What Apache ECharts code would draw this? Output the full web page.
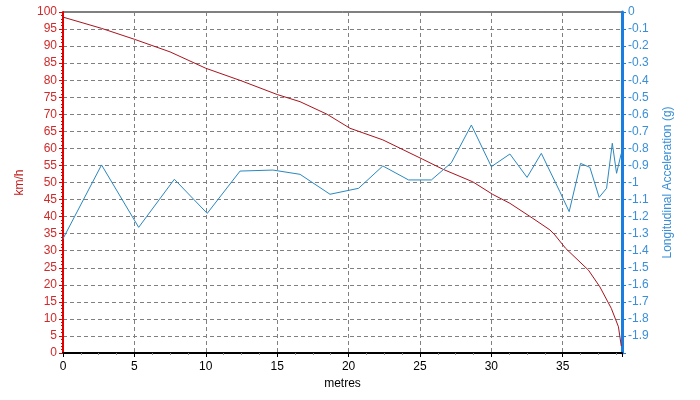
<!DOCTYPE html>
<html>
<head>
<meta charset="utf-8">
<script src="https://cdn.jsdelivr.net/npm/echarts@6/dist/echarts.min.js"></script>
<style>
html, body { margin: 0; padding: 0; background: #fff; }
#chart { width: 700px; height: 400px; }
</style>
</head>
<body>
<div id="chart"></div>
<script>
// speed (km/h) vs distance (m)
const speedPoints = [
  [0, 98.5], [2.7, 95.2], [5, 92], [7.5, 88.3], [10, 83.5], [12.5, 79.8],
  [15, 75.8], [16.6, 73.7], [18.5, 70], [20.1, 65.9], [22.4, 62.5],
  [25.2, 56.8], [26.6, 53.9], [28.7, 50.2], [30.1, 46.5], [31.3, 43.9],
  [32.9, 39.5], [34.1, 36.1], [34.45, 34.6], [35.2, 30.7], [36.8, 24.3],
  [37.6, 19.4], [38.4, 13.1], [38.9, 7.7], [39.1, 2]
];
// longitudinal acceleration (g) vs distance (m)
const accelPoints = [
  [0, -1.33], [2.7, -0.897], [5.3, -1.263], [7.8, -0.981], [10.1, -1.181],
  [12.4, -0.933], [14.7, -0.927], [16.6, -0.952], [18.7, -1.069],
  [20.7, -1.034], [22.4, -0.903], [24.2, -0.985], [25.8, -0.985],
  [27.2, -0.884], [28.6, -0.663], [30.0, -0.907], [31.3, -0.833],
  [32.5, -0.97], [33.5, -0.829], [34.8, -1.054], [35.45, -1.171],
  [36.25, -0.888], [36.9, -0.911], [37.55, -1.087], [38.07, -1.034],
  [38.47, -0.77], [38.77, -0.946], [39.1, -0.829]
];
const distMax = 39.15;

const myChart = echarts.init(document.getElementById('chart'));
const font = 'Liberation Sans, Arial, sans-serif';
const option = {
  animation: false,
  backgroundColor: '#fff',
  textStyle: { fontFamily: font },
  grid: {
    left: 63, right: 78, top: 12, bottom: 47,
    show: true, borderColor: '#000', borderWidth: 1
  },
  xAxis: {
    type: 'value', min: 0, max: distMax, interval: 5,
    name: 'metres', nameLocation: 'middle', nameGap: 22,
    nameTextStyle: { color: '#000', fontSize: 12, fontFamily: font },
    axisLine: { lineStyle: { color: '#000', width: 2 } },
    axisTick: { length: 4, lineStyle: { color: '#000' } },
    minorTick: { show: true, splitNumber: 4, length: 2, lineStyle: { color: '#888' } },
    axisLabel: { color: '#000', fontSize: 12, margin: 8, showMaxLabel: false, fontFamily: font },
    splitLine: { show: true, lineStyle: { color: '#808080', type: [4, 3], width: 1 } }
  },
  yAxis: [
    {
      type: 'value', min: 0, max: 100, interval: 5, position: 'left',
      name: 'km/h', nameLocation: 'middle', nameGap: 35, nameRotate: 90,
      nameTextStyle: { color: '#c01818', fontSize: 12, fontFamily: font },
      axisLine: { show: true, lineStyle: { color: '#e00000', width: 2 } },
      axisTick: { show: true, length: 4, lineStyle: { color: '#e00000' } },
      minorTick: { show: true, splitNumber: 5, length: 2, lineStyle: { color: '#e00000' } },
      axisLabel: { color: '#d02a2a', fontSize: 12, margin: 6, fontFamily: font },
      splitLine: { show: true, lineStyle: { color: '#808080', type: [4, 3], width: 1 } }
    },
    {
      type: 'value', min: -2, max: 0, interval: 0.1, position: 'right',
      name: 'Longitudinal Acceleration (g)', nameLocation: 'middle', nameGap: 40, nameRotate: 90,
      nameTextStyle: { color: '#3a8fd8', fontSize: 12, fontFamily: font },
      axisLine: { show: true, lineStyle: { color: '#1a7ee0', width: 3 } },
      axisTick: { show: true, length: 4, lineStyle: { color: '#1a7ee0' } },
      minorTick: { show: true, splitNumber: 2, length: 2, lineStyle: { color: '#1a7ee0' } },
      axisLabel: { color: '#3a8fd8', fontSize: 12, margin: 6, showMinLabel: false, fontFamily: font },
      splitLine: { show: false }
    }
  ],
  series: [
    {
      name: 'Speed', type: 'line', yAxisIndex: 0, data: speedPoints,
      showSymbol: false, symbol: 'none',
      lineStyle: { color: '#a8141e', width: 1 }
    },
    {
      name: 'Accel', type: 'line', yAxisIndex: 1, data: accelPoints,
      showSymbol: false, symbol: 'none',
      lineStyle: { color: '#2a88c0', width: 1 }
    }
  ]
};
myChart.setOption(option);
</script>
</body>
</html>
